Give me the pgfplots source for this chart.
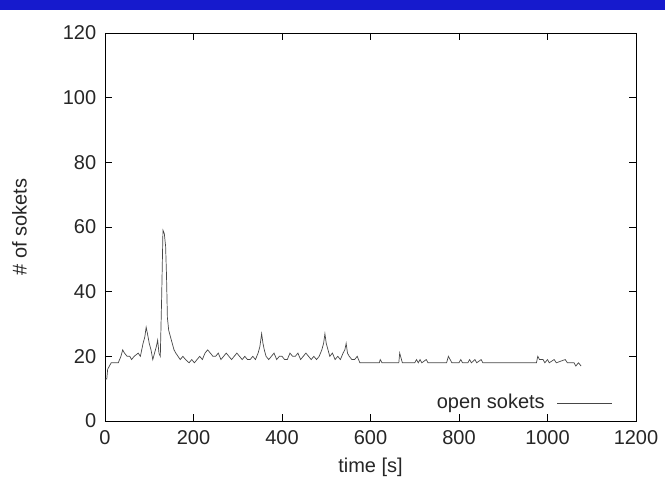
\documentclass[border=0pt]{standalone}
\usepackage{fontspec}
\setmainfont{Liberation Sans}
\usepackage{pgfplots}
\pgfplotsset{compat=1.18}
\definecolor{band}{RGB}{22,26,205}
\definecolor{trace}{RGB}{70,70,70}
\begin{document}
\fontsize{20}{24}\selectfont
\begin{tikzpicture}[x=1pt,y=1pt]
\path[use as bounding box] (0,0) rectangle (665,479);
\fill[band] (0,469) rectangle (665,479);
\begin{axis}[
  at={(105pt,58pt)}, anchor=south west,
  scale only axis, width=531pt, height=388pt,
  xmin=0, xmax=1200, ymin=0, ymax=120,
  xtick={0,200,...,1200}, ytick={0,20,...,120},
  tick align=inside, major tick length=7pt,
  tick style={black, line width=0.6pt},
  axis line style={black, line width=0.9pt},
  /pgf/number format/assume math mode=true,
  /pgf/number format/1000 sep={},
  ticklabel style={font=\fontsize{20}{24}\selectfont, text=black!85},
  xticklabel style={yshift=-3pt},
  yticklabel style={xshift=-2pt},
  xlabel={time [s]}, ylabel={\# of sokets},
  label style={font=\fontsize{20}{24}\selectfont, text=black!85},
  xlabel style={at={(axis description cs:0.5,-0.119)}, anchor=center},
  ylabel style={at={(axis description cs:-0.161,0.5)}, anchor=center},
  legend plot pos=right,
  legend style={at={(0.956,0.046)}, anchor=east, draw=none, fill=none,
    inner sep=0pt, font=\fontsize{20}{24}\selectfont,
    nodes={inner sep=1pt, text=black!85}},
  legend image code/.code={\draw[#1] (0pt,0pt) -- (55pt,0pt);},
]
\addplot[trace, line width=0.7pt] coordinates {
(0,13) (4,13) (6,16) (10,17) (14,18) (30,18) (36,20) (40,22) (44,21) (50,20)
(56,20) (60,19) (66,20) (75,21) (80,20) (86,24) (90,26) (93,29) (96,27) (100,24)
(104,22) (108,19) (112,21) (116,23) (119,25) (122,21) (125,20) (128,38) (131,59) (134,58)
(137,54) (139,45) (141,32) (144,28) (148,26) (152,24) (156,22) (160,21) (165,20) (170,19)
(176,20) (182,19) (190,18) (196,19) (202,18) (208,19) (214,20) (220,19) (226,21) (232,22)
(238,21) (244,20) (250,20) (256,21) (262,19) (268,20) (274,21) (280,20) (286,19) (292,20)
(298,21) (304,20) (310,19) (316,20) (322,19) (328,19) (334,20) (340,19) (346,21) (350,23)
(354,27) (357,24) (360,22) (364,20) (370,19) (376,20) (382,21) (388,19) (394,20) (400,20)
(406,19) (412,19) (418,21) (424,20) (430,20) (436,21) (442,19) (448,20) (454,21) (460,20)
(466,19) (472,20) (478,19) (484,20) (490,22) (494,24) (497,27) (500,24) (504,22) (508,20)
(514,21) (520,19) (526,20) (532,19) (538,21) (542,22) (545,24) (548,21) (552,20) (558,19)
(564,19) (570,20) (576,18) (620,18) (622,19) (626,18) (664,18) (666,21) (670,19) (672,18)
(700,18) (704,19) (708,18) (712,19) (716,18) (726,19) (730,18) (772,18) (776,20) (780,19)
(784,18) (800,18) (804,19) (808,18) (820,18) (824,19) (828,18) (836,19) (840,18) (850,19)
(854,18) (870,18) (975,18) (978,20) (982,19) (990,19) (994,18) (1000,19) (1004,18) (1015,19)
(1020,18) (1040,19) (1045,18) (1060,18) (1064,17) (1070,18) (1076,17)
};
\addlegendentry{open sokets\rule{11pt}{0pt}}
\end{axis}
\end{tikzpicture}
\end{document}
